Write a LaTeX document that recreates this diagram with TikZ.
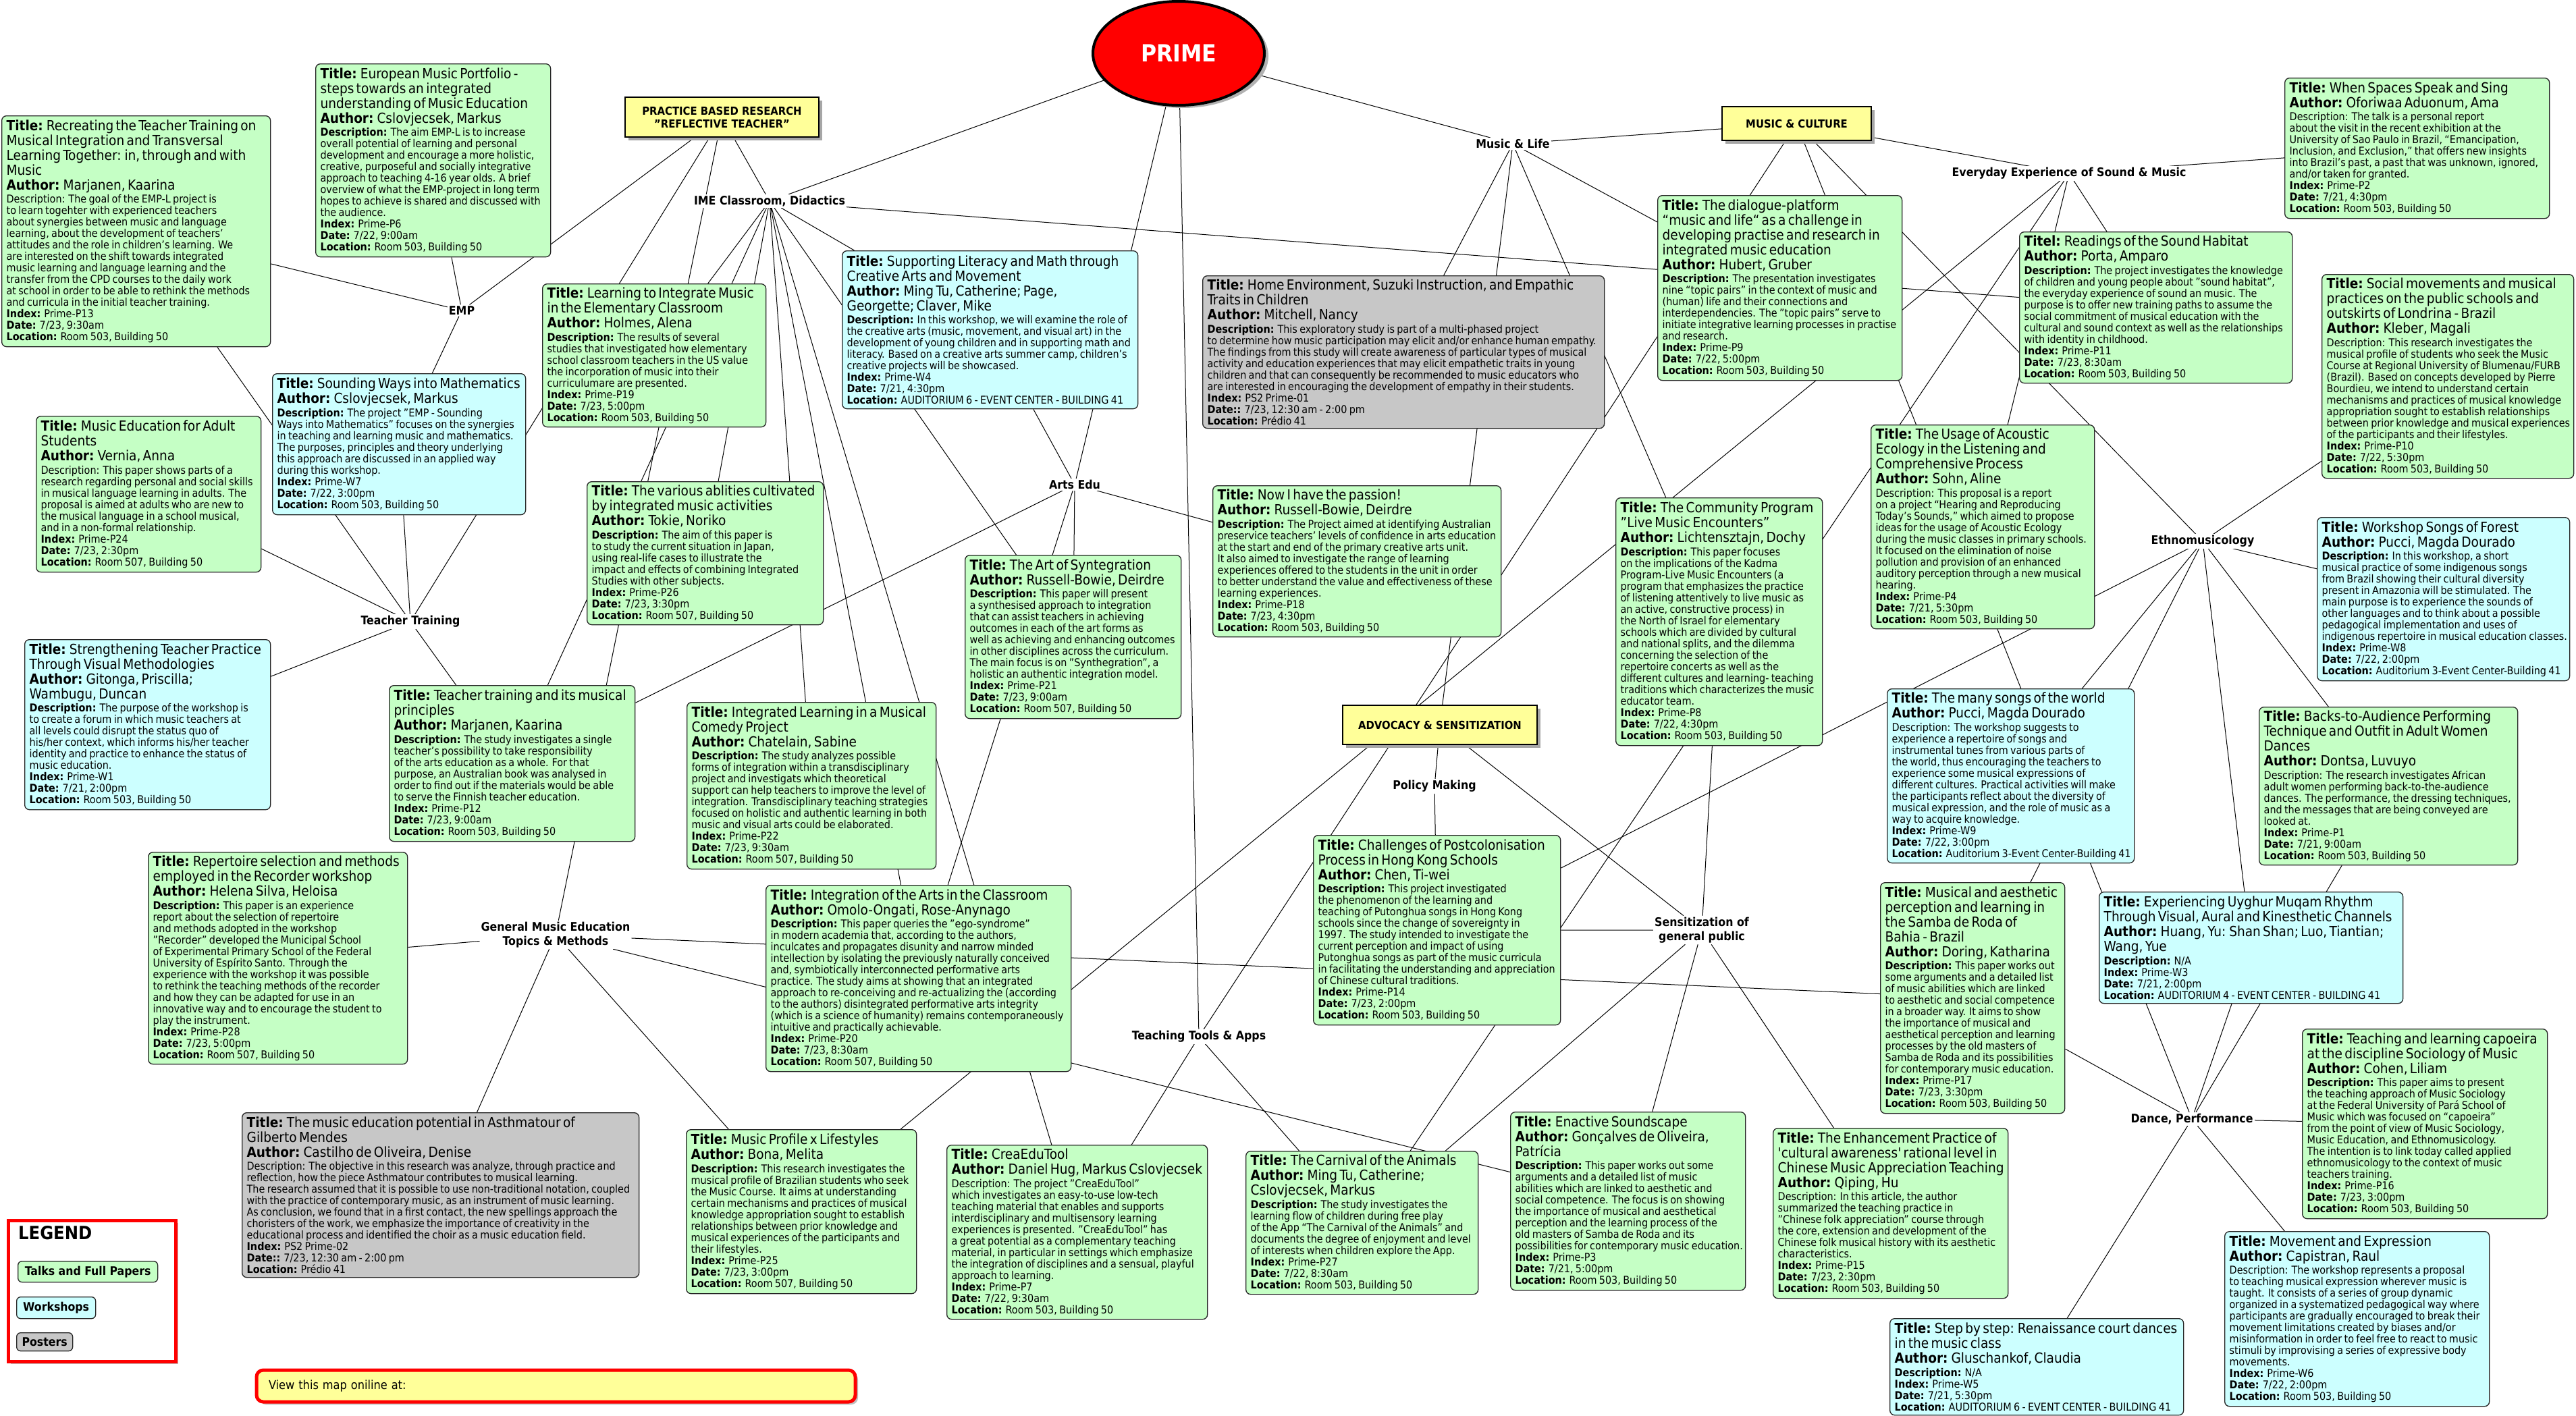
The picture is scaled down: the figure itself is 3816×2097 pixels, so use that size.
\documentclass[tikz,border=0pt]{standalone}
\usepackage{fontspec}
\IfFontExistsTF{DejaVu Sans Condensed}{\setmainfont{DejaVu Sans Condensed}}{\setmainfont{DejaVu Sans}}
\usetikzlibrary{shapes.geometric, shadows, backgrounds}

\definecolor{talkgreen}{RGB}{197,255,197}
\definecolor{shopcyan}{RGB}{204,255,255}
\definecolor{postergray}{RGB}{199,199,199}
\definecolor{catyellow}{RGB}{255,255,153}

% one printed line of a card: title size, text size, first text line
\newcommand{\ttl}[1]{{\fontsize{20.6}{22}\selectfont\hbox{#1}}}
\newcommand{\dsc}[1]{{\fontsize{16}{17}\selectfont\hbox{#1}}}
\newcommand{\dsx}[1]{{\vskip2.5pt\fontsize{16}{17}\selectfont\hbox{#1}}}
\newcommand{\card}[1]{\noindent\vbox{#1}}

\begin{document}
\begin{tikzpicture}[
    x=1pt, y=-1pt,
    box/.style={draw=black!85, line width=1.3pt, rounded corners=7pt, anchor=north west, inner xsep=7pt, inner ysep=5pt},
    talk/.style={box, fill=talkgreen, text width=#1},
    shop/.style={box, fill=shopcyan, text width=#1},
    poster/.style={box, fill=postergray, text width=#1},
    topic/.style={draw=black, line width=1.3pt, fill=catyellow, align=center, font=\fontsize{16.5}{19}\selectfont\bfseries, drop shadow={shadow xshift=5pt, shadow yshift=-5pt, fill=black!35, opacity=1}},
    phrase/.style={fill=white, inner sep=2pt, align=center, font=\fontsize{17.6}{21}\selectfont\bfseries},
    key/.style={draw=black!85, line width=1.3pt, rounded corners=6pt, anchor=north west, inner sep=0pt, font=\fontsize{17.5}{20}\selectfont\bfseries},
    link/.style={draw=black, line width=1pt}
]
    \useasboundingbox (0,0) rectangle (3816,2097);

    % centre and topics
    \node[ellipse, draw=black, line width=4pt, fill=red, minimum width=254pt, minimum height=154pt, text=white, font=\fontsize{35}{40}\selectfont\bfseries, drop shadow={shadow xshift=6pt, shadow yshift=-4pt, fill=black!30, opacity=1}] (prime) at (1746,79) {PRIME};
    \node[topic, minimum width=287pt, minimum height=59pt] (prac) at (1069.5,173.5) {PRACTICE BASED RESEARCH\\"REFLECTIVE TEACHER"};
    \node[topic, minimum width=221pt, minimum height=50pt] (mc) at (2661.5,183) {MUSIC \& CULTURE};
    \node[topic, minimum width=288pt, minimum height=58pt] (adv) at (2133,1074) {ADVOCACY \& SENSITIZATION};

    \node[phrase] (emp) at (684,460) {EMP};
    \node[phrase] (ime) at (1140,298) {IME Classroom, Didactics};
    \node[phrase] (ml) at (2241,213) {Music \& Life};
    \node[phrase] (eve) at (3065,257) {Everyday Experience of Sound \& Music};
    \node[phrase] (tt) at (608,921) {Teacher Training};
    \node[phrase] (gme) at (823,1385) {General Music Education\\Topics \& Methods};
    \node[phrase] (arts) at (1592,718) {Arts Edu};
    \node[phrase] (policy) at (2125,1165) {Policy Making};
    \node[phrase] (sens) at (2521,1378) {Sensitization of\\general public};
    \node[phrase] (ethno) at (3263,802) {Ethnomusicology};
    \node[phrase] (tools) at (1776,1536) {Teaching Tools \& Apps};
    \node[phrase] (dance) at (3247,1658) {Dance, Performance};

    % cards
    \node[talk=384pt, minimum height=342pt] (p13) at (2,171) {\card{
        \ttl{\textbf{Title:} Recreating the Teacher Training on}
        \ttl{Musical Integration and Transversal}
        \ttl{Learning Together: in, through and with}
        \ttl{Music}
        \ttl{\textbf{Author:} Marjanen, Kaarina}
        \dsx{Description: The goal of the EMP-L project is}
        \dsc{to learn togehter with experienced teachers}
        \dsc{about synergies between music and language}
        \dsc{learning, about the development of teachers’}
        \dsc{attitudes and the role in children’s learning. We}
        \dsc{are interested on the shift towards integrated}
        \dsc{music learning and language learning and the}
        \dsc{transfer from the CPD courses to the daily work}
        \dsc{at school in order to be able to rethink the methods}
        \dsc{and curricula in the initial teacher training.}
        \dsc{\textbf{Index:} Prime-P13}
        \dsc{\textbf{Date:} 7/23, 9:30am}
        \dsc{\textbf{Location:} Room 503, Building 50}}};
    \node[talk=334pt, minimum height=286pt] (p6) at (467,94) {\card{
        \ttl{\textbf{Title:} European Music Portfolio -}
        \ttl{steps towards an integrated}
        \ttl{understanding of Music Education}
        \ttl{\textbf{Author:} Cslovjecsek, Markus}
        \dsx{\textbf{Description:} The aim EMP-L is to increase}
        \dsc{overall potential of learning and personal}
        \dsc{development and encourage a more holistic,}
        \dsc{creative, purposeful and socially integrative}
        \dsc{approach to teaching 4-16 year olds. A brief}
        \dsc{overview of what the EMP-project in long term}
        \dsc{hopes to achieve is shared and discussed with}
        \dsc{the audience.}
        \dsc{\textbf{Index:} Prime-P6}
        \dsc{\textbf{Date:} 7/22, 9:00am}
        \dsc{\textbf{Location:} Room 503, Building 50}}};
    \node[shop=361pt, minimum height=209pt] (w7) at (403,553) {\card{
        \ttl{\textbf{Title:} Sounding Ways into Mathematics}
        \ttl{\textbf{Author:} Cslovjecsek, Markus}
        \dsx{\textbf{Description:} The project "EMP - Sounding}
        \dsc{Ways into Mathematics" focuses on the synergies}
        \dsc{in teaching and learning music and mathematics.}
        \dsc{The purposes, principles and theory underlying}
        \dsc{this approach are discussed in an applied way}
        \dsc{during this workshop.}
        \dsc{\textbf{Index:} Prime-W7}
        \dsc{\textbf{Date:} 7/22, 3:00pm}
        \dsc{\textbf{Location:} Room 503, Building 50}}};
    \node[talk=317pt, minimum height=212pt] (p19) at (803,420) {\card{
        \ttl{\textbf{Title:} Learning to Integrate Music}
        \ttl{in the Elementary Classroom}
        \ttl{\textbf{Author:} Holmes, Alena}
        \dsx{\textbf{Description:} The results of several}
        \dsc{studies that investigated how elementary}
        \dsc{school classroom teachers in the US value}
        \dsc{the incorporation of music into their}
        \dsc{curriculumare are presented.}
        \dsc{\textbf{Index:} Prime-P19}
        \dsc{\textbf{Date:} 7/23, 5:00pm}
        \dsc{\textbf{Location:} Room 503, Building 50}}};
    \node[talk=319pt, minimum height=231pt] (p24) at (53,616) {\card{
        \ttl{\textbf{Title:} Music Education for Adult}
        \ttl{Students}
        \ttl{\textbf{Author:} Vernia, Anna}
        \dsx{Description: This paper shows parts of a}
        \dsc{research regarding personal and social skills}
        \dsc{in musical language learning in adults. The}
        \dsc{proposal is aimed at adults who are new to}
        \dsc{the musical language in a school musical,}
        \dsc{and in a non-formal relationship.}
        \dsc{\textbf{Index:} Prime-P24}
        \dsc{\textbf{Date:} 7/23, 2:30pm}
        \dsc{\textbf{Location:} Room 507, Building 50}}};
    \node[shop=424pt, minimum height=234pt] (w4) at (1247,371) {\card{
        \ttl{\textbf{Title:} Supporting Literacy and Math through}
        \ttl{Creative Arts and Movement}
        \ttl{\textbf{Author:} Ming Tu, Catherine; Page,}
        \ttl{Georgette; Claver, Mike}
        \dsx{\textbf{Description:} In this workshop, we will examine the role of}
        \dsc{the creative arts (music, movement, and visual art) in the}
        \dsc{development of young children and in supporting math and}
        \dsc{literacy. Based on a creative arts summer camp, children's}
        \dsc{creative projects will be showcased.}
        \dsc{\textbf{Index:} Prime-W4}
        \dsc{\textbf{Date:} 7/21, 4:30pm}
        \dsc{\textbf{Location:} AUDITORIUM 6 - EVENT CENTER - BUILDING 41}}};
    \node[poster=581pt, minimum height=226pt] (ps1) at (1781,408) {\card{
        \ttl{\textbf{Title:} Home Environment, Suzuki Instruction, and Empathic}
        \ttl{Traits in Children}
        \ttl{\textbf{Author:} Mitchell, Nancy}
        \dsx{\textbf{Description:}  This exploratory study is part of a multi-phased project}
        \dsc{to determine how music participation may elicit and/or enhance human empathy.}
        \dsc{The findings from this study will create awareness of particular types of musical}
        \dsc{activity and education experiences that may elicit empathetic traits in young}
        \dsc{children and that can consequently be recommended to music educators who}
        \dsc{are interested in encouraging the development of empathy in their students.}
        \dsc{\textbf{Index:} PS2 Prime-01}
        \dsc{\textbf{Date::} 7/23, 12:30 am - 2:00 pm}
        \dsc{\textbf{Location:} Prédio 41}}};
    \node[talk=348pt, minimum height=274pt] (p9) at (2455,289) {\card{
        \ttl{\textbf{Title:} The dialogue-platform}
        \ttl{“music and life“ as a challenge in}
        \ttl{developing practise and research in}
        \ttl{integrated music education}
        \ttl{\textbf{Author:} Hubert, Gruber}
        \dsx{\textbf{Description:} The presentation investigates}
        \dsc{nine “topic pairs” in the context of music and}
        \dsc{(human) life and their connections and}
        \dsc{interdependencies. The "topic pairs" serve to}
        \dsc{initiate integrative learning processes in practise}
        \dsc{and research.}
        \dsc{\textbf{Index:} Prime-P9}
        \dsc{\textbf{Date:} 7/22, 5:00pm}
        \dsc{\textbf{Location:} Room 503, Building 50}}};
    \node[talk=378pt, minimum height=208pt] (p2) at (3384,115) {\card{
        \ttl{\textbf{Title:} When Spaces Speak and Sing}
        \ttl{\textbf{Author:} Oforiwaa Aduonum, Ama}
        \dsx{Description: The talk is a personal report}
        \dsc{about the visit in the recent exhibition at the}
        \dsc{University of Sao Paulo in Brazil, “Emancipation,}
        \dsc{Inclusion, and Exclusion,” that offers new insights}
        \dsc{into Brazil’s past, a past that was unknown, ignored,}
        \dsc{and/or taken for granted.}
        \dsc{\textbf{Index:} Prime-P2}
        \dsc{\textbf{Date:} 7/21, 4:30pm}
        \dsc{\textbf{Location:} Room 503, Building 50}}};
    \node[talk=390pt, minimum height=224pt] (p11) at (2991,343) {\card{
        \ttl{\textbf{Titel:} Readings of the Sound Habitat}
        \ttl{\textbf{Author:} Porta, Amparo}
        \dsx{\textbf{Description:} The project investigates the knowledge}
        \dsc{of children and young people about "sound habitat",}
        \dsc{the everyday experience of sound an music. The}
        \dsc{purpose is to offer new training paths to assume the}
        \dsc{social commitment of musical education with the}
        \dsc{cultural and sound context as well as the relationships}
        \dsc{with identity in childhood.}
        \dsc{\textbf{Index:} Prime-P11}
        \dsc{\textbf{Date:} 7/23, 8:30am}
        \dsc{\textbf{Location:} Room 503, Building 50}}};
    \node[talk=359pt, minimum height=302pt] (p10) at (3439,406) {\card{
        \ttl{\textbf{Title:} Social movements and musical}
        \ttl{practices on the public schools and}
        \ttl{outskirts of Londrina - Brazil}
        \ttl{\textbf{Author:} Kleber, Magali}
        \dsx{Description: This research investigates the}
        \dsc{musical profile of students who seek the Music}
        \dsc{Course at Regional University of Blumenau/FURB}
        \dsc{(Brazil). Based on concepts developed by Pierre}
        \dsc{Bourdieu, we intend to understand certain}
        \dsc{mechanisms and practices of musical knowledge}
        \dsc{appropriation sought to establish relationships}
        \dsc{between prior knowledge and musical experiences}
        \dsc{of the participants and their lifestyles.}
        \dsc{\textbf{Index:} Prime-P10}
        \dsc{\textbf{Date:} 7/22, 5:30pm}
        \dsc{\textbf{Location:} Room 503, Building 50}}};
    \node[shop=350pt, minimum height=252pt] (w1) at (36,947) {\card{
        \ttl{\textbf{Title:} Strengthening Teacher Practice}
        \ttl{Through Visual Methodologies}
        \ttl{\textbf{Author:} Gitonga, Priscilla;}
        \ttl{Wambugu, Duncan}
        \dsx{\textbf{Description:} The purpose of the workshop is}
        \dsc{to create a forum in which music teachers at}
        \dsc{all levels could disrupt the status quo of}
        \dsc{his/her context, which informs his/her teacher}
        \dsc{identity and practice to enhance the status of}
        \dsc{music education.}
        \dsc{\textbf{Index:} Prime-W1}
        \dsc{\textbf{Date:} 7/21, 2:00pm}
        \dsc{\textbf{Location:} Room 503, Building 50}}};
    \node[talk=350pt, minimum height=231pt] (p12) at (576,1015) {\card{
        \ttl{\textbf{Title:} Teacher training and its musical}
        \ttl{principles}
        \ttl{\textbf{Author:} Marjanen, Kaarina}
        \dsx{\textbf{Description:} The study investigates a single}
        \dsc{teacher's possibility to take responsibility}
        \dsc{of the arts education as a whole. For that}
        \dsc{purpose, an Australian book was analysed in}
        \dsc{order to find out  if the materials would be able}
        \dsc{to serve the Finnish teacher education.}
        \dsc{\textbf{Index:} Prime-P12}
        \dsc{\textbf{Date:} 7/23, 9:00am}
        \dsc{\textbf{Location:} Room 503, Building 50}}};
    \node[talk=370pt, minimum height=314pt] (p28) at (219,1262) {\card{
        \ttl{\textbf{Title:} Repertoire selection and methods}
        \ttl{employed in the Recorder workshop}
        \ttl{\textbf{Author:} Helena Silva, Heloisa}
        \dsx{\textbf{Description:} This paper is an experience}
        \dsc{report about the selection of repertoire}
        \dsc{and methods adopted in the workshop}
        \dsc{"Recorder" developed the Municipal School}
        \dsc{of Experimental Primary School of the Federal}
        \dsc{University of Espírito Santo. Through the}
        \dsc{experience with the workshop it was possible}
        \dsc{to rethink the teaching methods of the recorder}
        \dsc{and how they can be adapted for use in an}
        \dsc{innovative way and to encourage the student to}
        \dsc{play the instrument.}
        \dsc{\textbf{Index:} Prime-P28}
        \dsc{\textbf{Date:} 7/23, 5:00pm}
        \dsc{\textbf{Location:} Room 507, Building 50}}};
    \node[talk=336pt, minimum height=212pt] (p26) at (869,713) {\card{
        \ttl{\textbf{Title:} The various ablities cultivated}
        \ttl{by integrated music activities}
        \ttl{\textbf{Author:} Tokie, Noriko}
        \dsx{\textbf{Description:} The aim of this paper is}
        \dsc{to study the current situation in Japan,}
        \dsc{using real-life cases to illustrate the}
        \dsc{impact and effects of combining Integrated}
        \dsc{Studies with other subjects.}
        \dsc{\textbf{Index:} Prime-P26}
        \dsc{\textbf{Date:} 7/23, 3:30pm}
        \dsc{\textbf{Location:} Room 507, Building 50}}};
    \node[talk=306pt, minimum height=242pt] (p21) at (1429,822) {\card{
        \ttl{\textbf{Title:} The Art of Syntegration}
        \ttl{\textbf{Author:} Russell-Bowie, Deirdre}
        \dsx{\textbf{Description:} This paper will present}
        \dsc{a synthesised approach to integration}
        \dsc{that can assist teachers in achieving}
        \dsc{outcomes in each of the art forms as}
        \dsc{well as achieving and enhancing outcomes}
        \dsc{in other disciplines across the curriculum.}
        \dsc{The main focus is on "Synthegration", a}
        \dsc{holistic an authentic integration model.}
        \dsc{\textbf{Index:} Prime-P21}
        \dsc{\textbf{Date:} 7/23, 9:00am}
        \dsc{\textbf{Location:} Room 507, Building 50}}};
    \node[talk=413pt, minimum height=224pt] (p18) at (1796,719) {\card{
        \ttl{\textbf{Title:} Now I have the passion!}
        \ttl{\textbf{Author:} Russell-Bowie, Deirdre}
        \dsx{\textbf{Description:} The Project aimed at identifying Australian}
        \dsc{preservice teachers’ levels of confidence in arts education}
        \dsc{at the start and end of the primary creative arts unit.}
        \dsc{It also aimed to investigate the range of learning}
        \dsc{experiences offered to the students in the unit in order}
        \dsc{to better understand the value and effectiveness of these}
        \dsc{learning experiences.}
        \dsc{\textbf{Index:} Prime-P18}
        \dsc{\textbf{Date:} 7/23, 4:30pm}
        \dsc{\textbf{Location:} Room 503, Building 50}}};
    \node[talk=355pt, minimum height=247pt] (p22) at (1017,1040) {\card{
        \ttl{\textbf{Title:} Integrated Learning in a Musical}
        \ttl{Comedy Project}
        \ttl{\textbf{Author:} Chatelain, Sabine}
        \dsx{\textbf{Description:} The study analyzes possible}
        \dsc{forms of integration within a transdisciplinary}
        \dsc{project and investigats which theoretical}
        \dsc{support can help teachers to improve the level of}
        \dsc{integration. Transdisciplinary teaching strategies}
        \dsc{focused on holistic and authentic learning in both}
        \dsc{music and visual arts could be elaborated.}
        \dsc{\textbf{Index:} Prime-P22}
        \dsc{\textbf{Date:} 7/23, 9:30am}
        \dsc{\textbf{Location:} Room 507, Building 50}}};
    \node[talk=438pt, minimum height=276pt] (p20) at (1134,1311) {\card{
        \ttl{\textbf{Title:} Integration of the Arts in the Classroom}
        \ttl{\textbf{Author:} Omolo-Ongati, Rose-Anynago}
        \dsx{\textbf{Description:} This paper queries the "ego-syndrome"}
        \dsc{in modern academia that, according to the authors,}
        \dsc{inculcates and propagates disunity and narrow minded}
        \dsc{intellection by isolating the previously naturally conceived}
        \dsc{and, symbiotically interconnected performative arts}
        \dsc{practice. The study aims at showing that an integrated}
        \dsc{approach to re-conceiving and re-actualizing the (according}
        \dsc{to the authors) disintegrated performative arts integrity}
        \dsc{(which is a science of humanity) remains contemporaneously}
        \dsc{intuitive and practically achievable.}
        \dsc{\textbf{Index:} Prime-P20}
        \dsc{\textbf{Date:} 7/23, 8:30am}
        \dsc{\textbf{Location:} Room 507, Building 50}}};
    \node[talk=352pt, minimum height=281pt] (p14) at (1945,1237) {\card{
        \ttl{\textbf{Title:} Challenges of Postcolonisation}
        \ttl{Process in Hong Kong Schools}
        \ttl{\textbf{Author:} Chen, Ti-wei}
        \dsx{\textbf{Description:} This project investigated}
        \dsc{the phenomenon of the learning and}
        \dsc{teaching of Putonghua songs in Hong Kong}
        \dsc{schools since the change of sovereignty in}
        \dsc{1997. The study intended to investigate the}
        \dsc{current perception and impact of using}
        \dsc{Putonghua songs as part of the music curricula}
        \dsc{in facilitating the understanding and appreciation}
        \dsc{of Chinese cultural traditions.}
        \dsc{\textbf{Index:} Prime-P14}
        \dsc{\textbf{Date:} 7/23, 2:00pm}
        \dsc{\textbf{Location:} Room 503, Building 50}}};
    \node[talk=292pt, minimum height=367pt] (p8) at (2393,737) {\card{
        \ttl{\textbf{Title:} The Community Program}
        \ttl{"Live Music Encounters"}
        \ttl{\textbf{Author:} Lichtensztajn, Dochy}
        \dsx{\textbf{Description:} This paper focuses}
        \dsc{on the implications of the Kadma}
        \dsc{Program-Live Music Encounters (a}
        \dsc{program that emphasizes the practice}
        \dsc{of listening attentively to live music as}
        \dsc{an active, constructive process) in}
        \dsc{the North of Israel for elementary}
        \dsc{schools which are divided by cultural}
        \dsc{and national splits, and the dilemma}
        \dsc{concerning the selection of the}
        \dsc{repertoire concerts as well as the}
        \dsc{different cultures and learning- teaching}
        \dsc{traditions which characterizes the music}
        \dsc{educator team.}
        \dsc{\textbf{Index:} Prime-P8}
        \dsc{\textbf{Date:} 7/22, 4:30pm}
        \dsc{\textbf{Location:} Room 503, Building 50}}};
    \node[shop=352pt, minimum height=258pt] (w9) at (2795,1020) {\card{
        \ttl{\textbf{Title:} The many songs of the world}
        \ttl{\textbf{Author:} Pucci, Magda Dourado}
        \dsx{Description: The workshop suggests to}
        \dsc{experience a repertoire of songs and}
        \dsc{instrumental tunes from various parts of}
        \dsc{the world, thus encouraging the teachers to}
        \dsc{experience some musical expressions of}
        \dsc{different cultures. Practical activities will make}
        \dsc{the participants reflect about the diversity of}
        \dsc{musical expression, and the role of music as a}
        \dsc{way to acquire knowledge.}
        \dsc{\textbf{Index:} Prime-W9}
        \dsc{\textbf{Date:} 7/22, 3:00pm}
        \dsc{\textbf{Location:} Auditorium 3-Event Center-Building 41}}};
    \node[talk=259pt, minimum height=342pt] (p17) at (2785,1307) {\card{
        \ttl{\textbf{Title:} Musical and aesthetic}
        \ttl{perception and learning in}
        \ttl{the Samba de Roda of}
        \ttl{Bahia - Brazil}
        \ttl{\textbf{Author:} Doring, Katharina}
        \dsx{\textbf{Description:} This paper works out}
        \dsc{some arguments and a detailed list}
        \dsc{of music abilities which are  linked}
        \dsc{to aesthetic and social competence}
        \dsc{in a broader way. It aims to show}
        \dsc{the importance of musical and}
        \dsc{aesthetical perception and learning}
        \dsc{processes by the old masters of}
        \dsc{Samba de Roda and its possibilities}
        \dsc{for contemporary music education.}
        \dsc{\textbf{Index:} Prime-P17}
        \dsc{\textbf{Date:} 7/23, 3:30pm}
        \dsc{\textbf{Location:} Room 503, Building 50}}};
    \node[talk=317pt, minimum height=302pt] (p4) at (2771,629) {\card{
        \ttl{\textbf{Title:} The Usage of Acoustic}
        \ttl{Ecology in the Listening and}
        \ttl{Comprehensive Process}
        \ttl{\textbf{Author:} Sohn, Aline}
        \dsx{Description:  This proposal is a report}
        \dsc{on a project “Hearing and Reproducing}
        \dsc{Today’s Sounds,” which aimed to propose}
        \dsc{ideas for the usage of Acoustic Ecology}
        \dsc{during the music classes in primary schools.}
        \dsc{It focused on the elimination of noise}
        \dsc{pollution and provision of an enhanced}
        \dsc{auditory perception through a new musical}
        \dsc{hearing.}
        \dsc{\textbf{Index:} Prime-P4}
        \dsc{\textbf{Date:} 7/21, 5:30pm}
        \dsc{\textbf{Location:} Room 503, Building 50}}};
    \node[shop=360pt, minimum height=242pt] (w8) at (3432,766) {\card{
        \ttl{\textbf{Title:} Workshop Songs of Forest}
        \ttl{\textbf{Author:} Pucci, Magda Dourado}
        \dsx{\textbf{Description:} In this workshop, a short}
        \dsc{musical practice of some indigenous songs}
        \dsc{from Brazil showing their cultural diversity}
        \dsc{present in Amazonia will be stimulated. The}
        \dsc{main purpose is to experience the sounds of}
        \dsc{other languages and to think about a possible}
        \dsc{pedagogical implementation and uses of}
        \dsc{indigenous repertoire in musical education classes.}
        \dsc{\textbf{Index:} Prime-W8}
        \dsc{\textbf{Date:} 7/22, 2:00pm}
        \dsc{\textbf{Location:} Auditorium 3-Event Center-Building 41}}};
    \node[talk=369pt, minimum height=234pt] (p1) at (3346,1047) {\card{
        \ttl{\textbf{Title:} Backs-to-Audience Performing}
        \ttl{Technique and Outfit in Adult Women}
        \ttl{Dances}
        \ttl{\textbf{Author:} Dontsa, Luvuyo}
        \dsx{Description: The research investigates African}
        \dsc{adult women performing back-to-the-audience}
        \dsc{dances. The performance, the dressing techniques,}
        \dsc{and the messages that are being conveyed are}
        \dsc{looked at.}
        \dsc{\textbf{Index:} Prime-P1}
        \dsc{\textbf{Date:} 7/21, 9:00am}
        \dsc{\textbf{Location:} Room 503, Building 50}}};
    \node[shop=436pt, minimum height=165pt] (w3) at (3109,1321) {\card{
        \ttl{\textbf{Title:} Experiencing Uyghur Muqam Rhythm}
        \ttl{Through Visual, Aural and Kinesthetic Channels}
        \ttl{\textbf{Author:} Huang, Yu: Shan Shan; Luo, Tiantian;}
        \ttl{Wang, Yue}
        \dsx{\textbf{Description:} N/A}
        \dsc{\textbf{Index:} Prime-W3}
        \dsc{\textbf{Date:} 7/21, 2:00pm}
        \dsc{\textbf{Location:} AUDITORIUM 4 - EVENT CENTER - BUILDING 41}}};
    \node[poster=574pt, minimum height=244pt] (ps2) at (358,1648) {\card{
        \ttl{\textbf{Title:} The music education potential in Asthmatour of}
        \ttl{Gilberto Mendes}
        \ttl{\textbf{Author:}  Castilho de Oliveira, Denise}
        \dsx{Description:  The objective in this research was analyze, through practice and}
        \dsc{reflection, how the piece Asthmatour contributes to musical learning.}
        \dsc{The research assumed that it is possible to use non-traditional notation, coupled}
        \dsc{with the practice of contemporary music, as an instrument of music learning.}
        \dsc{As conclusion, we found that in a first contact, the new spellings approach the}
        \dsc{choristers of the work, we emphasize the importance of creativity in the}
        \dsc{educational process and identified the choir as a music education field.}
        \dsc{\textbf{Index:} PS2 Prime-02}
        \dsc{\textbf{Date::} 7/23, 12:30 am - 2:00 pm}
        \dsc{\textbf{Location:} Prédio 41}}};
    \node[talk=327pt, minimum height=243pt] (p25) at (1016,1673) {\card{
        \ttl{\textbf{Title:} Music Profile x Lifestyles}
        \ttl{\textbf{Author:} Bona, Melita}
        \dsx{\textbf{Description:} This research investigates the}
        \dsc{musical profile of Brazilian students who seek}
        \dsc{the Music Course. It aims at understanding}
        \dsc{certain mechanisms and practices of musical}
        \dsc{knowledge appropriation sought to establish}
        \dsc{relationships between prior knowledge and}
        \dsc{musical experiences of the participants and}
        \dsc{their lifestyles.}
        \dsc{\textbf{Index:} Prime-P25}
        \dsc{\textbf{Date:} 7/23, 3:00pm}
        \dsc{\textbf{Location:} Room 507, Building 50}}};
    \node[talk=372pt, minimum height=258pt] (p7) at (1402,1696) {\card{
        \ttl{\textbf{Title:} CreaEduTool}
        \ttl{\textbf{Author:} Daniel Hug, Markus Cslovjecsek}
        \dsx{Description: The project "CreaEduTool"}
        \dsc{which investigates an easy-to-use low-tech}
        \dsc{teaching material that enables and supports}
        \dsc{interdisciplinary and multisensory learning}
        \dsc{experiences is presented. "CreaEduTool" has}
        \dsc{a great potential as a complementary teaching}
        \dsc{material, in particular in settings which emphasize}
        \dsc{the integration of disciplines and a sensual, playful}
        \dsc{approach to learning.}
        \dsc{\textbf{Index:} Prime-P7}
        \dsc{\textbf{Date:} 7/22, 9:30am}
        \dsc{\textbf{Location:} Room 503, Building 50}}};
    \node[talk=330pt, minimum height=212pt] (p27) at (1845,1705) {\card{
        \ttl{\textbf{Title:} The Carnival of the Animals}
        \ttl{\textbf{Author:} Ming Tu, Catherine;}
        \ttl{Cslovjecsek, Markus}
        \dsx{\textbf{Description:} The study investigates the}
        \dsc{learning flow of children during free play}
        \dsc{of the App “The Carnival of the Animals” and}
        \dsc{documents the degree of enjoyment and level}
        \dsc{of interests when children explore the App.}
        \dsc{\textbf{Index:} Prime-P27}
        \dsc{\textbf{Date:} 7/22, 8:30am}
        \dsc{\textbf{Location:} Room 503, Building 50}}};
    \node[talk=334pt, minimum height=264pt] (p3) at (2237,1647) {\card{
        \ttl{\textbf{Title:} Enactive Soundscape}
        \ttl{\textbf{Author:} Gonçalves de Oliveira,}
        \ttl{Patrícia}
        \dsx{\textbf{Description:} This paper works out some}
        \dsc{arguments and a detailed list of music}
        \dsc{abilities which are linked to aesthetic and}
        \dsc{social competence. The focus is on showing}
        \dsc{the importance of musical and aesthetical}
        \dsc{perception and the learning process of the}
        \dsc{old masters of Samba de Roda and its}
        \dsc{possibilities for contemporary music education.}
        \dsc{\textbf{Index:} Prime-P3}
        \dsc{\textbf{Date:} 7/21, 5:00pm}
        \dsc{\textbf{Location:} Room 503, Building 50}}};
    \node[talk=334pt, minimum height=252pt] (p15) at (2626,1671) {\card{
        \ttl{\textbf{Title:} The Enhancement Practice of}
        \ttl{\textquotesingle cultural awareness\textquotesingle{} rational level in}
        \ttl{Chinese Music Appreciation Teaching}
        \ttl{\textbf{Author:} Qiping, Hu}
        \dsx{Description: In this article, the author}
        \dsc{summarized the teaching practice in}
        \dsc{"Chinese folk appreciation" course through}
        \dsc{the core, extension and development of the}
        \dsc{Chinese folk musical history with its aesthetic}
        \dsc{characteristics.}
        \dsc{\textbf{Index:} Prime-P15}
        \dsc{\textbf{Date:} 7/23, 2:30pm}
        \dsc{\textbf{Location:} Room 503, Building 50}}};
    \node[shop=421pt, minimum height=143pt] (w5) at (2799,1953) {\card{
        \ttl{\textbf{Title:} Step by step: Renaissance court dances}
        \ttl{in the music class}
        \ttl{\textbf{Author:}  Gluschankof, Claudia}
        \dsx{\textbf{Description:} N/A}
        \dsc{\textbf{Index:} Prime-W5}
        \dsc{\textbf{Date:} 7/21, 5:30pm}
        \dsc{\textbf{Location:} AUDITORIUM 6 - EVENT CENTER - BUILDING 41}}};
    \node[talk=349pt, minimum height=281pt] (p16) at (3410,1524) {\card{
        \ttl{\textbf{Title:} Teaching and learning capoeira}
        \ttl{at the discipline Sociology of Music}
        \ttl{\textbf{Author:} Cohen, Liliam}
        \dsx{\textbf{Description:} This paper aims to present}
        \dsc{the teaching approach of Music Sociology}
        \dsc{at the Federal University of Pará School of}
        \dsc{Music which was focused on “capoeira”}
        \dsc{from the point of view of Music Sociology,}
        \dsc{Music Education, and Ethnomusicology.}
        \dsc{The intention is to link today called applied}
        \dsc{ethnomusicology to the context of music}
        \dsc{teachers training.}
        \dsc{\textbf{Index:} Prime-P16}
        \dsc{\textbf{Date:} 7/23, 3:00pm}
        \dsc{\textbf{Location:} Room 503, Building 50}}};
    \node[shop=378pt, minimum height=259pt] (w6) at (3295,1824) {\card{
        \ttl{\textbf{Title:} Movement and Expression}
        \ttl{\textbf{Author:} Capistran, Raul}
        \dsx{Description: The workshop represents a proposal}
        \dsc{to teaching musical expression wherever music is}
        \dsc{taught. It  consists of a series of group dynamic}
        \dsc{organized in a systematized pedagogical way where}
        \dsc{participants are gradually encouraged to break their}
        \dsc{movement limitations created by biases and/or}
        \dsc{misinformation in order to feel free to react to music}
        \dsc{stimuli by improvising a series of expressive body}
        \dsc{movements.}
        \dsc{\textbf{Index:} Prime-W6}
        \dsc{\textbf{Date:} 7/22, 2:00pm}
        \dsc{\textbf{Location:} Room 503, Building 50}}};

    % legend and footer
    \node[draw=red, line width=5pt, fill=white, anchor=north west, minimum width=248pt, minimum height=209pt, drop shadow={shadow xshift=4pt, shadow yshift=-4pt, fill=black!25, opacity=1}] (legend) at (9.5,1805.5) {};
    \node[anchor=west, inner sep=0pt, font=\fontsize{27}{30}\selectfont\bfseries] (legendtitle) at (27,1827) {LEGEND};
    \node[key, fill=talkgreen, minimum width=207pt, minimum height=31pt] (keytalk) at (26,1868) {Talks and Full Papers};
    \node[key, fill=shopcyan, minimum width=117pt, minimum height=32pt] (keyshop) at (24,1921) {Workshops};
    \node[key, fill=postergray, minimum width=83pt, minimum height=27pt] (keyposter) at (24,1974) {Posters};
    \node[draw=red, line width=5pt, fill=catyellow, rounded corners=10pt, anchor=north west, minimum height=47pt, text width=851pt, inner xsep=18pt, align=left, font=\fontsize{18}{21}\selectfont, drop shadow={shadow xshift=4pt, shadow yshift=-4pt, fill=black!25, opacity=1}] (online) at (377.5,2027.5) {View this map oniline at:};

    % connectors, under the cards
    \begin{scope}[on background layer]
        \fill[white] (0,0) rectangle (3816,2097);
        \draw[link] (prime) -- (ime) (prime) -- (arts) (prime) -- (tools) (prime) -- (ml);
        \draw[link] (prac) -- (ime) (prac) -- (emp) (prac) -- (tt) (prac) -- (gme);
        \draw[link] (emp) -- (p13) (emp) -- (p6) (emp) -- (w7);
        \draw[link] (ime) -- (p19) (ime) -- (p12) (ime) -- (p26) (ime) -- (p22) (ime) -- (p20) (ime) -- (p7) (ime) -- (p21) (ime) -- (w4) (ime) -- (p11);
        \draw[link] (tt) -- (p24) (tt) -- (p13) (tt) -- (w7) (tt) -- (w1) (tt) -- (p12);
        \draw[link] (gme) -- (p28) (gme) -- (ps2) (gme) -- (p25) (gme) -- (p3) (gme) -- (p17);
        \draw[link] (arts) -- (w4) (arts) -- (p12) (arts) -- (p21) (arts) -- (p20) (arts) -- (p18);
        \draw[link] (ml) -- (mc) (ml) -- (ps1) (ml) -- (adv) (ml) -- (p8) (ml) -- (p9);
        \draw[link] (mc) -- (eve) (mc) -- (tools) (mc) -- (ethno) (mc) -- (dance);
        \draw[link] (eve) -- (p2) (eve) -- (p11) (eve) -- (p4) (eve) -- (p27) (eve) -- (p25);
        \draw[link] (adv) -- (policy) (adv) -- (sens) (policy) -- (p14);
        \draw[link] (sens) -- (p8) (sens) -- (p14) (sens) -- (p27) (sens) -- (p3) (sens) -- (p15);
        \draw[link] (tools) -- (p7) (tools) -- (p27);
        \draw[link] (ethno) -- (p10) (ethno) -- (w8) (ethno) -- (p1) (ethno) -- (w3) (ethno) -- (p17) (ethno) -- (w9) (ethno) -- (p14);
        \draw[link] (dance) -- (w3) (dance) -- (p1) (dance) -- (p16) (dance) -- (w6) (dance) -- (w5) (dance) -- (p17);
    \end{scope}
\end{tikzpicture}
\end{document}
